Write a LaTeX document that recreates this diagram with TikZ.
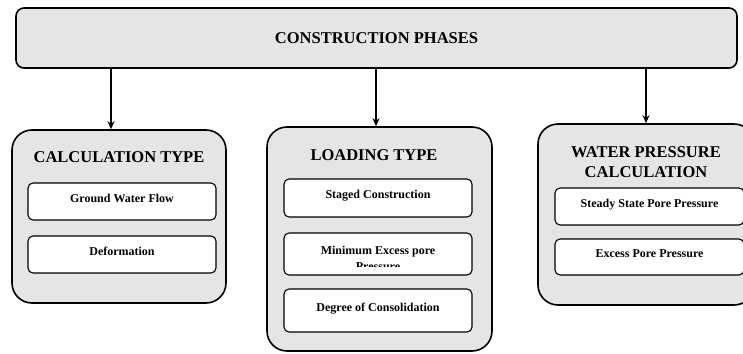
\documentclass[tikz,border=0pt]{standalone}
\usepackage{fontspec}
\setmainfont{Liberation Serif}
\usetikzlibrary{arrows.meta, positioning}

\begin{document}
\begin{tikzpicture}[x=1pt, y=-1pt,
		phasebox/.style={draw, line width=1.6pt, fill=black!10, rounded corners=8pt, font=\fontsize{16.5}{20}\selectfont\bfseries},
		groupbox/.style={draw, line width=1.6pt, fill=black!10, rounded corners=20pt},
		grouptitle/.style={font=\fontsize{16.5}{20}\selectfont\bfseries, align=center, inner sep=0pt},
		itembox/.style={draw, line width=1.1pt, fill=white, rounded corners=5pt, font=\fontsize{12}{16}\selectfont\bfseries, text height=8pt, text depth=7pt},
		itemtext/.style={font=\fontsize{12}{16}\selectfont\bfseries, align=center, inner sep=0pt},
		flow/.style={line width=1.4pt, -{Stealth[length=8pt, width=7pt]}}]
		\useasboundingbox (0,0) rectangle (743,353);
		\node[phasebox, minimum width=721pt, minimum height=60pt] (phases) at (376.5,38) {CONSTRUCTION PHASES};

		\node[groupbox, minimum width=214pt, minimum height=173pt] (calc) at (119,216.5) {};
		\node[grouptitle] (calctitle) at (119,157) {CALCULATION TYPE};
		\node[itembox, minimum width=188pt, minimum height=37pt] (gwflow) at (122,201.5) {Ground Water Flow};
		\node[itembox, minimum width=188pt, minimum height=37pt] (deform) at (122,254.5) {Deformation};

		\node[groupbox, minimum width=225pt, minimum height=224pt] (loading) at (379.5,239) {};
		\node[grouptitle] (loadtitle) at (374,155) {LOADING TYPE};
		\node[itembox, minimum width=188pt, minimum height=38pt] (staged) at (378,198) {Staged Construction};
		\node[itembox, minimum width=188pt, minimum height=42pt] (minbox) at (378,254) {};
		\begin{scope}
			\clip (284,233) rectangle (472,266);
			\node[itemtext] (minexcess) at (378,258) {Minimum Excess pore\\Pressure};
		\end{scope}
		\node[itembox, minimum width=188pt, minimum height=43pt] (degree) at (378,310.5) {Degree of Consolidation};

		\node[groupbox, minimum width=216pt, minimum height=181pt] (waterpr) at (646,214.5) {};
		\node[grouptitle] (watertitle) at (646,162) {WATER PRESSURE\\CALCULATION};
		\node[itembox, minimum width=189pt, minimum height=37pt] (steady) at (649.5,206.5) {Steady State Pore Pressure};
		\node[itembox, minimum width=189pt, minimum height=36pt] (excesspp) at (649.5,257) {Excess Pore Pressure};

		\draw[flow] ([xshift=-8pt]calc.north |- phases.south) -- ([xshift=-8pt]calc.north);
		\draw[flow] ([xshift=-3.5pt]loading.north |- phases.south) -- ([xshift=-3.5pt]loading.north);
		\draw[flow] (waterpr.north |- phases.south) -- (waterpr.north);
	\end{tikzpicture}
\end{document}
